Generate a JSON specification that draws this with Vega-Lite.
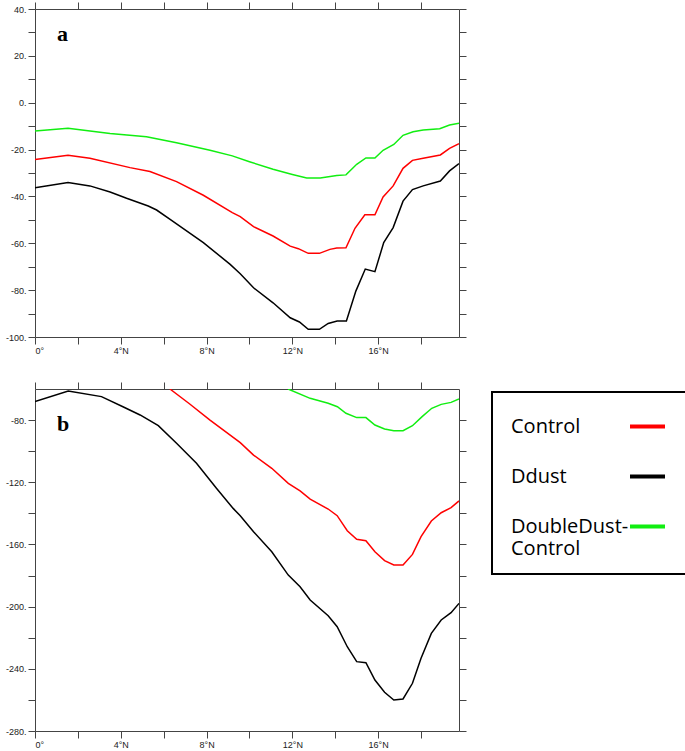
{
  "$schema": "https://vega.github.io/schema/vega-lite/v6.json",
  "padding": {"left": 5, "top": 1, "right": 0, "bottom": 0},
  "background": "white",
  "datasets": {
    "top": [
      {"series": "Control", "lat": 0, "value": -24.2},
      {"series": "Control", "lat": 1.54, "value": -22.4},
      {"series": "Control", "lat": 2.56, "value": -23.7},
      {"series": "Control", "lat": 4.43, "value": -27.7},
      {"series": "Control", "lat": 5.36, "value": -29.4},
      {"series": "Control", "lat": 6.6, "value": -33.7},
      {"series": "Control", "lat": 7.85, "value": -39.5},
      {"series": "Control", "lat": 9.2, "value": -46.9},
      {"series": "Control", "lat": 9.57, "value": -48.6},
      {"series": "Control", "lat": 10.19, "value": -52.9},
      {"series": "Control", "lat": 11.1, "value": -56.9},
      {"series": "Control", "lat": 11.9, "value": -61.2},
      {"series": "Control", "lat": 12.28, "value": -62.3},
      {"series": "Control", "lat": 12.74, "value": -64.3},
      {"series": "Control", "lat": 13.26, "value": -64.3},
      {"series": "Control", "lat": 13.75, "value": -62.6},
      {"series": "Control", "lat": 14.07, "value": -62.0},
      {"series": "Control", "lat": 14.5, "value": -61.9},
      {"series": "Control", "lat": 14.92, "value": -53.6},
      {"series": "Control", "lat": 15.38, "value": -47.8},
      {"series": "Control", "lat": 15.85, "value": -47.8},
      {"series": "Control", "lat": 16.23, "value": -40.2},
      {"series": "Control", "lat": 16.7, "value": -35.5},
      {"series": "Control", "lat": 17.16, "value": -28.0},
      {"series": "Control", "lat": 17.6, "value": -24.6},
      {"series": "Control", "lat": 18.1, "value": -23.7},
      {"series": "Control", "lat": 18.9, "value": -22.3},
      {"series": "Control", "lat": 19.33, "value": -19.5},
      {"series": "Control", "lat": 19.77, "value": -17.5},
      {"series": "Ddust", "lat": 0, "value": -36.3},
      {"series": "Ddust", "lat": 1.54, "value": -34.1},
      {"series": "Ddust", "lat": 2.56, "value": -35.5},
      {"series": "Ddust", "lat": 3.5, "value": -38.1},
      {"series": "Ddust", "lat": 4.27, "value": -40.8},
      {"series": "Ddust", "lat": 5.28, "value": -44.1},
      {"series": "Ddust", "lat": 5.67, "value": -45.8},
      {"series": "Ddust", "lat": 6.3, "value": -49.8},
      {"series": "Ddust", "lat": 7.85, "value": -59.7},
      {"series": "Ddust", "lat": 9.1, "value": -69.0},
      {"series": "Ddust", "lat": 9.57, "value": -73.0},
      {"series": "Ddust", "lat": 10.19, "value": -79.0},
      {"series": "Ddust", "lat": 11.1, "value": -85.4},
      {"series": "Ddust", "lat": 11.9, "value": -91.8},
      {"series": "Ddust", "lat": 12.33, "value": -93.6},
      {"series": "Ddust", "lat": 12.74, "value": -96.7},
      {"series": "Ddust", "lat": 13.26, "value": -96.7},
      {"series": "Ddust", "lat": 13.67, "value": -94.2},
      {"series": "Ddust", "lat": 14.09, "value": -93.2},
      {"series": "Ddust", "lat": 14.52, "value": -93.2},
      {"series": "Ddust", "lat": 14.96, "value": -80.4},
      {"series": "Ddust", "lat": 15.4, "value": -71.0},
      {"series": "Ddust", "lat": 15.85, "value": -72.1},
      {"series": "Ddust", "lat": 16.26, "value": -59.7},
      {"series": "Ddust", "lat": 16.7, "value": -53.3},
      {"series": "Ddust", "lat": 17.16, "value": -42.0},
      {"series": "Ddust", "lat": 17.6, "value": -37.1},
      {"series": "Ddust", "lat": 18.1, "value": -35.5},
      {"series": "Ddust", "lat": 18.9, "value": -33.4},
      {"series": "Ddust", "lat": 19.33, "value": -29.1},
      {"series": "Ddust", "lat": 19.77, "value": -26.0},
      {"series": "DoubleDust-Control", "lat": 0, "value": -12.1},
      {"series": "DoubleDust-Control", "lat": 1.54, "value": -10.9},
      {"series": "DoubleDust-Control", "lat": 3.5, "value": -13.1},
      {"series": "DoubleDust-Control", "lat": 5.2, "value": -14.5},
      {"series": "DoubleDust-Control", "lat": 6.6, "value": -17.1},
      {"series": "DoubleDust-Control", "lat": 8.16, "value": -20.3},
      {"series": "DoubleDust-Control", "lat": 9.2, "value": -22.7},
      {"series": "DoubleDust-Control", "lat": 10.0, "value": -25.2},
      {"series": "DoubleDust-Control", "lat": 11.1, "value": -28.4},
      {"series": "DoubleDust-Control", "lat": 12.0, "value": -30.6},
      {"series": "DoubleDust-Control", "lat": 12.67, "value": -32.1},
      {"series": "DoubleDust-Control", "lat": 13.3, "value": -32.1},
      {"series": "DoubleDust-Control", "lat": 14.07, "value": -31.1},
      {"series": "DoubleDust-Control", "lat": 14.5, "value": -30.8},
      {"series": "DoubleDust-Control", "lat": 15.0, "value": -26.3},
      {"series": "DoubleDust-Control", "lat": 15.43, "value": -23.6},
      {"series": "DoubleDust-Control", "lat": 15.85, "value": -23.6},
      {"series": "DoubleDust-Control", "lat": 16.23, "value": -20.3},
      {"series": "DoubleDust-Control", "lat": 16.73, "value": -17.8},
      {"series": "DoubleDust-Control", "lat": 17.16, "value": -13.9},
      {"series": "DoubleDust-Control", "lat": 17.63, "value": -12.4},
      {"series": "DoubleDust-Control", "lat": 18.1, "value": -11.6},
      {"series": "DoubleDust-Control", "lat": 18.87, "value": -11.1},
      {"series": "DoubleDust-Control", "lat": 19.33, "value": -9.5},
      {"series": "DoubleDust-Control", "lat": 19.77, "value": -8.8}
    ],
    "bottom": [
      {"series": "Control", "lat": 6.29, "value": -60.0},
      {"series": "Control", "lat": 7.2, "value": -69.5},
      {"series": "Control", "lat": 8.16, "value": -80.0},
      {"series": "Control", "lat": 9.57, "value": -94.5},
      {"series": "Control", "lat": 10.19, "value": -102.5},
      {"series": "Control", "lat": 11.04, "value": -111.0},
      {"series": "Control", "lat": 11.81, "value": -120.7},
      {"series": "Control", "lat": 12.36, "value": -125.6},
      {"series": "Control", "lat": 12.83, "value": -130.8},
      {"series": "Control", "lat": 13.67, "value": -137.2},
      {"series": "Control", "lat": 14.09, "value": -141.5},
      {"series": "Control", "lat": 14.56, "value": -151.2},
      {"series": "Control", "lat": 15.0, "value": -156.7},
      {"series": "Control", "lat": 15.43, "value": -157.6},
      {"series": "Control", "lat": 15.85, "value": -164.7},
      {"series": "Control", "lat": 16.3, "value": -170.4},
      {"series": "Control", "lat": 16.73, "value": -173.2},
      {"series": "Control", "lat": 17.16, "value": -173.2},
      {"series": "Control", "lat": 17.6, "value": -166.4},
      {"series": "Control", "lat": 18.0, "value": -155.0},
      {"series": "Control", "lat": 18.48, "value": -144.9},
      {"series": "Control", "lat": 18.94, "value": -139.6},
      {"series": "Control", "lat": 19.4, "value": -136.3},
      {"series": "Control", "lat": 19.77, "value": -132.0},
      {"series": "Ddust", "lat": 0, "value": -68.0},
      {"series": "Ddust", "lat": 1.55, "value": -61.3},
      {"series": "Ddust", "lat": 3.1, "value": -64.9},
      {"series": "Ddust", "lat": 4.1, "value": -71.4},
      {"series": "Ddust", "lat": 4.9, "value": -76.7},
      {"series": "Ddust", "lat": 5.75, "value": -83.6},
      {"series": "Ddust", "lat": 6.6, "value": -94.9},
      {"series": "Ddust", "lat": 7.53, "value": -107.8},
      {"series": "Ddust", "lat": 8.46, "value": -123.9},
      {"series": "Ddust", "lat": 9.24, "value": -136.8},
      {"series": "Ddust", "lat": 9.57, "value": -141.5},
      {"series": "Ddust", "lat": 10.19, "value": -151.8},
      {"series": "Ddust", "lat": 11.04, "value": -164.7},
      {"series": "Ddust", "lat": 11.81, "value": -179.7},
      {"series": "Ddust", "lat": 12.36, "value": -187.2},
      {"series": "Ddust", "lat": 12.83, "value": -195.7},
      {"series": "Ddust", "lat": 13.67, "value": -205.8},
      {"series": "Ddust", "lat": 14.09, "value": -212.9},
      {"series": "Ddust", "lat": 14.56, "value": -225.8},
      {"series": "Ddust", "lat": 15.0, "value": -235.4},
      {"series": "Ddust", "lat": 15.43, "value": -236.1},
      {"series": "Ddust", "lat": 15.85, "value": -247.2},
      {"series": "Ddust", "lat": 16.3, "value": -255.1},
      {"series": "Ddust", "lat": 16.73, "value": -260.1},
      {"series": "Ddust", "lat": 17.16, "value": -259.4},
      {"series": "Ddust", "lat": 17.6, "value": -249.3},
      {"series": "Ddust", "lat": 18.0, "value": -233.2},
      {"series": "Ddust", "lat": 18.48, "value": -217.2},
      {"series": "Ddust", "lat": 18.94, "value": -208.6},
      {"series": "Ddust", "lat": 19.4, "value": -203.9},
      {"series": "Ddust", "lat": 19.77, "value": -197.9},
      {"series": "DoubleDust-Control", "lat": 11.8, "value": -60.0},
      {"series": "DoubleDust-Control", "lat": 12.83, "value": -66.0},
      {"series": "DoubleDust-Control", "lat": 13.67, "value": -69.2},
      {"series": "DoubleDust-Control", "lat": 14.1, "value": -71.4},
      {"series": "DoubleDust-Control", "lat": 14.5, "value": -75.6},
      {"series": "DoubleDust-Control", "lat": 15.0, "value": -78.4},
      {"series": "DoubleDust-Control", "lat": 15.43, "value": -78.4},
      {"series": "DoubleDust-Control", "lat": 15.85, "value": -83.2},
      {"series": "DoubleDust-Control", "lat": 16.3, "value": -85.7},
      {"series": "DoubleDust-Control", "lat": 16.73, "value": -86.8},
      {"series": "DoubleDust-Control", "lat": 17.16, "value": -86.8},
      {"series": "DoubleDust-Control", "lat": 17.6, "value": -83.6},
      {"series": "DoubleDust-Control", "lat": 18.05, "value": -77.8},
      {"series": "DoubleDust-Control", "lat": 18.5, "value": -72.4},
      {"series": "DoubleDust-Control", "lat": 18.94, "value": -69.9},
      {"series": "DoubleDust-Control", "lat": 19.4, "value": -68.6},
      {"series": "DoubleDust-Control", "lat": 19.77, "value": -66.4}
    ]
  },
  "spacing": 26,
  "resolve": {"scale": {"color": "independent"}},
  "vconcat": [
    {
      "width": 424,
      "height": 328,
      "title": {"text": "a", "anchor": "start", "frame": "group", "offset": -44, "dx": 22, "font": "Liberation Serif", "fontSize": 22, "fontWeight": "bold", "color": "black"},
      "data": {"name": "top"},
      "layer": [
        {
          "mark": {"type": "line", "strokeWidth": 1.5, "clip": true},
          "encoding": {
            "x": {"field": "lat", "type": "quantitative", "scale": {"domain": [0, 19.77], "nice": false, "zero": false},
                  "axis": {"orient": "bottom", "values": [0, 2, 4, 6, 8, 10, 12, 14, 16, 18], "labelExpr": "datum.value % 4 == 0 ? (datum.value == 0 ? '0°' : datum.value + '°N') : ''"}},
            "y": {"field": "value", "type": "quantitative", "scale": {"domain": [-100, 40], "nice": false, "zero": false},
                  "axis": {"orient": "left", "values": [-100, -90, -80, -70, -60, -50, -40, -30, -20, -10, 0, 10, 20, 30, 40], "labelExpr": "datum.value % 20 == 0 ? datum.value + '.' : ''"}},
            "color": {"field": "series", "type": "nominal", "scale": {"domain": ["Control", "Ddust", "DoubleDust-Control"], "range": ["#ff0000", "#000000", "#11ee11"]}, "legend": null}
          }
        },
        {
          "mark": {"type": "line", "opacity": 0},
          "encoding": {
            "x": {"field": "lat", "type": "quantitative", "axis": {"orient": "top", "values": [0, 2, 4, 6, 8, 10, 12, 14, 16, 18], "labels": false}},
            "y": {"field": "value", "type": "quantitative", "axis": {"orient": "right", "values": [-100, -90, -80, -70, -60, -50, -40, -30, -20, -10, 0, 10, 20, 30, 40], "labels": false}},
            "detail": {"field": "series"}
          }
        }
      ],
      "resolve": {"axis": {"x": "independent", "y": "independent"}}
    },
    {
      "width": 424,
      "height": 342,
      "title": {"text": "b", "anchor": "start", "frame": "group", "offset": -54, "dx": 22, "font": "Liberation Serif", "fontSize": 22, "fontWeight": "bold", "color": "black"},
      "data": {"name": "bottom"},
      "layer": [
        {
          "mark": {"type": "line", "strokeWidth": 1.5, "clip": true},
          "encoding": {
            "x": {"field": "lat", "type": "quantitative", "scale": {"domain": [0, 19.77], "nice": false, "zero": false},
                  "axis": {"orient": "bottom", "values": [0, 2, 4, 6, 8, 10, 12, 14, 16, 18], "labelExpr": "datum.value % 4 == 0 ? (datum.value == 0 ? '0°' : datum.value + '°N') : ''"}},
            "y": {"field": "value", "type": "quantitative", "scale": {"domain": [-280, -60], "nice": false, "zero": false},
                  "axis": {"orient": "left", "values": [-280, -260, -240, -220, -200, -180, -160, -140, -120, -100, -80], "labelExpr": "datum.value % 40 == 0 ? datum.value + '.' : ''"}},
            "color": {"field": "series", "type": "nominal", "scale": {"domain": ["Control", "Ddust", "DoubleDust-Control"], "range": ["#ff0000", "#000000", "#11ee11"]},
                      "legend": {
                        "orient": "none", "legendX": 457, "legendY": 3, "title": null,
                        "direction": "vertical",
                        "strokeColor": "black", "padding": 15, "fillColor": "white",
                        "labelFont": "Open Sans", "labelFontSize": 20, "labelColor": "black",
                        "symbolType": "stroke", "symbolSize": 1225, "symbolStrokeWidth": 4,
                        "symbolOffset": 121, "labelOffset": -156, "rowPadding": 20, "labelLimit": 300,
                        "labelExpr": "datum.label == 'DoubleDust-Control' ? ['DoubleDust-', 'Control'] : datum.label",
                        "encode": {
                          "legend": {"update": {"strokeWidth": {"value": 2}}}
                        }
                      }}
          }
        },
        {
          "mark": {"type": "line", "opacity": 0},
          "encoding": {
            "x": {"field": "lat", "type": "quantitative", "axis": {"orient": "top", "values": [0, 2, 4, 6, 8, 10, 12, 14, 16, 18], "labels": false}},
            "y": {"field": "value", "type": "quantitative", "axis": {"orient": "right", "values": [-280, -260, -240, -220, -200, -180, -160, -140, -120, -100, -80], "labels": false}},
            "detail": {"field": "series"}
          }
        }
      ],
      "resolve": {"axis": {"x": "independent", "y": "independent"}}
    }
  ],
  "config": {
    "view": {"stroke": null},
    "axis": {"grid": false, "title": null, "tickSize": 7, "tickColor": "#444", "domainColor": "#444", "labelFont": "Liberation Sans", "labelFontSize": 9, "labelColor": "#222", "labelPadding": 2, "tickWidth": 1, "domainWidth": 1}
  }
}
